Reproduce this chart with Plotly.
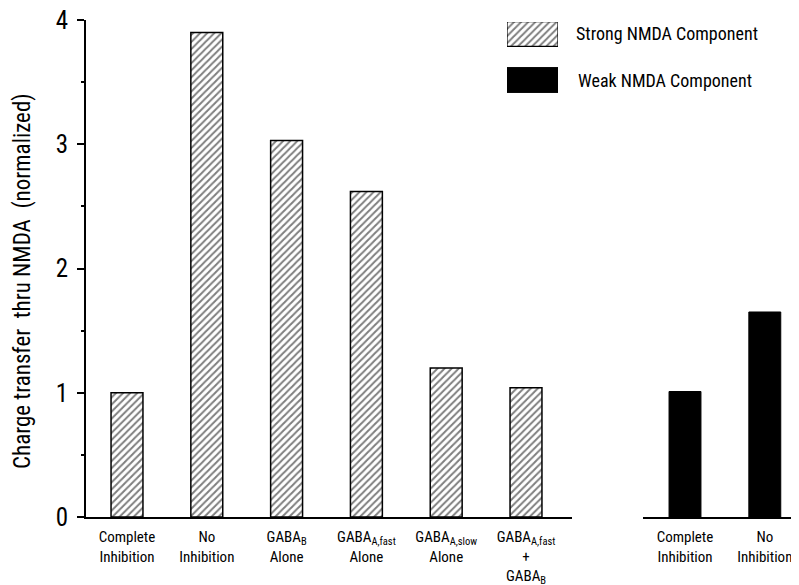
import plotly.graph_objects as go

# ---- data ----
strong_labels = [
    "Complete<br>Inhibition",
    "No<br>Inhibition",
    "GABA<sub>B</sub><br>Alone",
    "GABA<sub>A,fast</sub><br>Alone",
    "GABA<sub>A,slow</sub><br>Alone",
    "GABA<sub>A,fast</sub><br>+<br>GABA<sub>B</sub>",
]
strong_values = [1.0, 3.90, 3.03, 2.62, 1.20, 1.04]

weak_labels = ["Complete<br>Inhibition", "No<br>Inhibition"]
weak_values = [1.01, 1.65]

legend_names = ["Strong NMDA Component", "Weak NMDA Component"]
y_ticks = [0, 1, 2, 3, 4]
y_title = "Charge transfer  thru NMDA  (normalized)"

FONT = "Liberation Sans Narrow, Roboto Condensed, Arial Narrow, Liberation Sans, sans-serif"

OFF = 8  # page body margin
W, H = 799 - OFF, 585 - OFF
L, R, T, B = 86 - OFF, 0, 20 - OFF, 585 - 517
pw = W - L - R
ph = H - T - B

def px(x):  # screenshot pixel -> paper x
    return (x - OFF - L) / pw

def py(y):  # screenshot pixel -> paper y
    return (H - B - (y - OFF)) / ph

hatch = dict(shape="/", fgcolor="black", bgcolor="white", size=5, solidity=0.4)

fig = go.Figure()

fig.add_trace(go.Bar(
    x=strong_labels, y=strong_values, width=0.40,
    marker=dict(color="white", pattern=hatch, line=dict(color="black", width=1.5)),
    xaxis="x", yaxis="y", showlegend=False,
))
fig.add_trace(go.Bar(
    x=weak_labels, y=weak_values, width=0.40,
    marker=dict(color="black", line=dict(color="black", width=1)),
    xaxis="x2", yaxis="y", showlegend=False,
))

# legend swatches on an inset axis
fig.add_trace(go.Bar(
    y=[legend_names[0]], x=[1], orientation="h", width=0.54,
    marker=dict(color="white", pattern=hatch, line=dict(color="black", width=1.2)),
    xaxis="x3", yaxis="y3", showlegend=False,
))
fig.add_trace(go.Bar(
    y=[legend_names[1]], x=[1], orientation="h", width=0.54,
    marker=dict(color="black", line=dict(color="black", width=1)),
    xaxis="x3", yaxis="y3", showlegend=False,
))

tickfont = dict(family=FONT, size=15, color="black")

fig.update_layout(
    width=W, height=H,
    margin=dict(l=L, r=R, t=T, b=B, autoexpand=False),
    paper_bgcolor="white", plot_bgcolor="white",
    showlegend=False,
    font=dict(family=FONT, color="black"),
    xaxis=dict(
        domain=[0, px(572)],
        range=[-(127 - 86) / 79.8, (572 - 127) / 79.8],
        showline=True, linecolor="black", linewidth=2,
        ticks="", showgrid=False, zeroline=False,
        tickfont=tickfont, anchor="y", automargin=False, ticklabelstandoff=5,
        ticklabeloverflow="allow",
    ),
    xaxis2=dict(
        domain=[px(643), 1],
        range=[(643 - 685) / 79.8, (799 - 685) / 79.8],
        showline=True, linecolor="black", linewidth=2,
        ticks="", showgrid=False, zeroline=False,
        tickfont=tickfont, anchor="y", automargin=False, ticklabelstandoff=5,
        ticklabeloverflow="allow",
    ),
    yaxis=dict(
        domain=[0, 1],
        range=[0, 4],
        tickvals=y_ticks,
        ticks="outside", ticklen=7, tickwidth=2, tickcolor="black",
        minor=dict(dtick=0.5, ticks="outside", ticklen=3, tickwidth=1.5, tickcolor="black", showgrid=False),
        showline=True, linecolor="black", linewidth=2,
        showgrid=False, zeroline=False,
        tickfont=dict(family=FONT, size=25, color="black"),
        ticklabelstandoff=4, ticklabeloverflow="allow",
        anchor="x", automargin=False,
    ),
    xaxis3=dict(
        domain=[px(507), px(558)], range=[0, 1], visible=False, fixedrange=True, anchor="y3",
    ),
    yaxis3=dict(
        domain=[py(93), py(22)], range=[1 + 13 / 46, -12 / 46], visible=False,
        fixedrange=True, anchor="x3",
    ),
)

fig.add_annotation(x=px(22), y=py(281), xref="paper", yref="paper",
                   text=y_title, textangle=-90, showarrow=False,
                   xanchor="center", yanchor="middle",
                   font=dict(family=FONT, size=23, color="black"))
fig.add_annotation(x=px(574), y=py(34), xref="paper", yref="paper",
                   text=legend_names[0], showarrow=False, xanchor="left", yanchor="middle",
                   font=dict(family=FONT, size=18, color="black"))
fig.add_annotation(x=px(576), y=py(80), xref="paper", yref="paper",
                   text=legend_names[1], showarrow=False, xanchor="left", yanchor="middle",
                   font=dict(family=FONT, size=18, color="black"))

fig.write_html("out.html")
